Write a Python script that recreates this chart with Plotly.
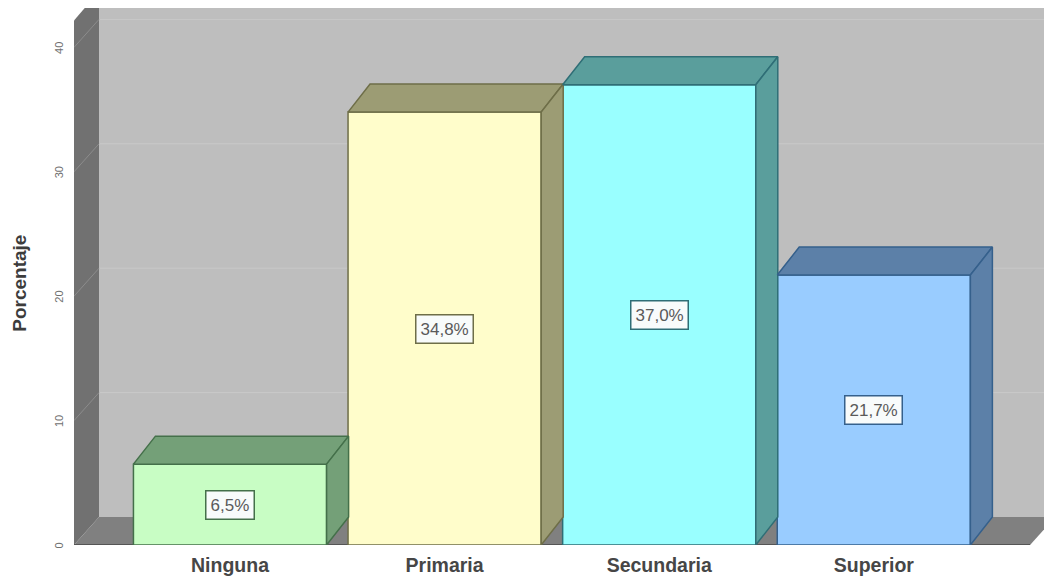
import plotly.graph_objects as go

# Education level shares (percent)
categories = ["Ninguna", "Primaria", "Secundaria", "Superior"]
values = [6.5, 34.8, 37.0, 21.7]
value_labels = ["6,5%", "34,8%", "37,0%", "21,7%"]
y_ticks = [0, 10, 20, 30, 40]
y_title = "Porcentaje"
y_title_center = 21.0

front_colors = ["#C8FDC4", "#FFFDCB", "#99FFFF", "#99CCFF"]
side_colors = ["#74A078", "#9C9C74", "#5A9E9C", "#5C80A8"]
edge_colors = ["#44704A", "#6E6E48", "#2F6E76", "#35608C"]

PX_X = 214.6     # horizontal pixels per category step
PX_Y = 12.44     # vertical pixels per percentage point
BAR_WIDTH = 0.9
BAR_DX = 22 / PX_X
BAR_DY = 28 / PX_Y
WALL_DX = 25 / PX_X
WALL_DY = 28 / PX_Y

X_MIN = -0.727
X_MAX = 3.793
FLOOR_RIGHT = 3.728
Y_MAX = 43.81
WALL_TOP = 43.17

WALL_COLOR = "#BEBEBE"
SIDE_WALL_COLOR = "#717171"
FLOOR_COLOR = "#808080"
GRID_COLOR = "#C9C9C9"
SIDE_GRID_COLOR = "#8C8C8C"


def polygon(points, fill, line=None, width=0):
    path = "M " + " L ".join(f"{x} {y}" for x, y in points) + " Z"
    return dict(
        type="path", path=path, xref="x", yref="y", layer="below",
        fillcolor=fill, line=dict(color=line or fill, width=width),
    )


def face(points, fill, line):
    xs, ys = zip(*(points + points[:1]))
    return go.Scatter(
        x=xs, y=ys, mode="lines", fill="toself", fillcolor=fill,
        line=dict(color=line, width=1.5), hoverinfo="skip", showlegend=False,
    )


shapes = [
    # Back wall
    polygon([(X_MIN + WALL_DX, WALL_DY), (X_MAX + 0.2, WALL_DY),
             (X_MAX + 0.2, WALL_TOP), (X_MIN + WALL_DX, WALL_TOP)], WALL_COLOR),
    # Floor
    polygon([(X_MIN, 0), (X_MIN + WALL_DX, WALL_DY),
             (FLOOR_RIGHT + WALL_DX, WALL_DY), (FLOOR_RIGHT, 0)], FLOOR_COLOR),
    # Left wall with its clipped top corner
    polygon([(X_MIN, 0), (X_MIN, WALL_TOP - 1.0), (X_MIN + 0.05, WALL_TOP),
             (X_MIN + WALL_DX, WALL_TOP), (X_MIN + WALL_DX, WALL_DY)], SIDE_WALL_COLOR),
    # Floor front edge
    dict(type="line", xref="x", yref="y", layer="below", x0=X_MIN, y0=0,
         x1=FLOOR_RIGHT, y1=0, line=dict(color="#555555", width=2)),
]

# Gridlines run along the back wall and step down the left wall
for tick in y_ticks[1:]:
    if tick + WALL_DY < WALL_TOP:
        shapes.append(dict(type="line", xref="x", yref="y", layer="below",
                           x0=X_MIN + WALL_DX, x1=X_MAX, y0=tick + WALL_DY, y1=tick + WALL_DY,
                           line=dict(color=GRID_COLOR, width=1)))
    shapes.append(dict(type="line", xref="x", yref="y", layer="below",
                       x0=X_MIN, x1=X_MIN + WALL_DX, y0=tick, y1=min(tick + WALL_DY, WALL_TOP),
                       line=dict(color=SIDE_GRID_COLOR, width=1)))

fig = go.Figure()

positions = list(range(len(categories)))

fig.add_trace(go.Bar(
    x=positions, y=values, width=BAR_WIDTH,
    marker=dict(color=front_colors, line=dict(color=edge_colors, width=1.5)),
    hoverinfo="skip", showlegend=False,
))

# Top and right faces of each bar
for pos, value, side, edge in zip(positions, values, side_colors, edge_colors):
    left = pos - BAR_WIDTH / 2
    right = pos + BAR_WIDTH / 2
    fig.add_trace(face([(left, value), (left + BAR_DX, value + BAR_DY),
                        (right + BAR_DX, value + BAR_DY), (right, value)], side, edge))
    fig.add_trace(face([(right, 0), (right + BAR_DX, BAR_DY),
                        (right + BAR_DX, value + BAR_DY), (right, value)], side, edge))

annotations = [
    dict(x=pos, y=value / 2, text=label, showarrow=False, xref="x", yref="y",
         font=dict(family="Liberation Sans", size=17, color="#5A5A5A"),
         bgcolor="#F8FBFB", bordercolor=edge, borderwidth=1.5, borderpad=4)
    for pos, value, label, edge in zip(positions, values, value_labels, edge_colors)
]

# Axis title sits a little below the middle of the plot
annotations.append(dict(
    x=-54 / 970, xref="paper", xanchor="center", y=y_title_center, yref="y", yanchor="middle",
    text=f"<b>{y_title}</b>", textangle=-90, showarrow=False,
    font=dict(family="Liberation Sans", size=19, color="#3C3C3C"),
))

fig.update_layout(
    width=1044, height=581,
    margin=dict(l=74, r=0, t=0, b=36),
    paper_bgcolor="white", plot_bgcolor="white",
    shapes=shapes, annotations=annotations, showlegend=False,
    xaxis=dict(
        range=[X_MIN, X_MAX], tickmode="array", tickvals=positions,
        ticktext=[f"<b>{c}</b>" for c in categories],
        tickfont=dict(family="Liberation Sans", size=19.5, color="#464646"),
        showgrid=False, zeroline=False, showline=False,
        ticks="outside", ticklen=3, tickcolor="rgba(0,0,0,0)",
    ),
    yaxis=dict(
        range=[0, Y_MAX], tickmode="array", tickvals=y_ticks, ticktext=[str(t) for t in y_ticks],
        tickangle=-90, tickfont=dict(family="Liberation Sans", size=11, color="#707070"),
        showgrid=False, zeroline=False, showline=False,
        ticks="outside", ticklen=6, tickcolor="rgba(0,0,0,0)", ticklabelshift=2,
    ),
)

fig.write_html("out.html")
